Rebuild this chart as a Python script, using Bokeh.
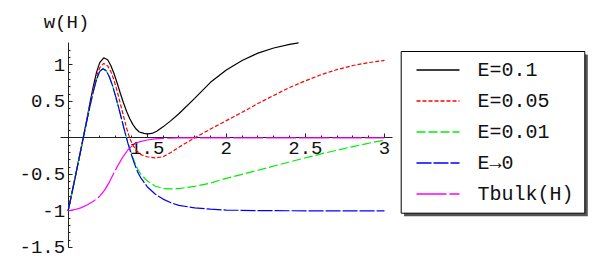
from bokeh.plotting import figure
from bokeh.models import Range1d, LinearAxis, FixedTicker, Label
from bokeh.core.properties import value
from bokeh.embed import file_html
from bokeh.resources import INLINE

# ---------------- data ----------------
H_e1 = [1.00, 1.02, 1.04, 1.06, 1.08, 1.10, 1.12, 1.14, 1.16, 1.18, 1.20, 1.225, 1.25, 1.27,
        1.29, 1.31, 1.33, 1.35, 1.37, 1.39, 1.41, 1.43, 1.45, 1.48, 1.50, 1.53, 1.56, 1.60,
        1.65, 1.70, 1.80, 1.90, 2.00, 2.10, 2.20, 2.30, 2.40, 2.457]
W_e1 = [-1.00, -0.80, -0.59, -0.38, -0.17, 0.05, 0.27, 0.50, 0.71, 0.90, 1.03, 1.096, 1.07, 0.99,
        0.88, 0.75, 0.61, 0.48, 0.36, 0.26, 0.18, 0.12, 0.08, 0.06, 0.055, 0.06, 0.09, 0.15,
        0.235, 0.33, 0.54, 0.76, 0.93, 1.06, 1.16, 1.23, 1.28, 1.30]

H_e05 = [1.00, 1.02, 1.04, 1.06, 1.08, 1.10, 1.12, 1.14, 1.16, 1.18, 1.20, 1.225, 1.25, 1.27,
         1.29, 1.31, 1.33, 1.35, 1.37, 1.39, 1.41, 1.43, 1.46, 1.50, 1.55, 1.60, 1.65, 1.70,
         1.75, 1.80, 1.85, 1.90, 2.00, 2.10, 2.20, 2.30, 2.40, 2.50, 2.60, 2.70, 2.80, 2.90, 3.00]
W_e05 = [-1.00, -0.80, -0.59, -0.38, -0.17, 0.04, 0.26, 0.47, 0.67, 0.84, 0.96, 1.02, 0.985, 0.91,
         0.79, 0.64, 0.47, 0.30, 0.13, -0.01, -0.10, -0.17, -0.23, -0.26, -0.275, -0.26, -0.20, -0.13,
         -0.065, 0.0, 0.06, 0.12, 0.235, 0.35, 0.47, 0.58, 0.69, 0.78, 0.865, 0.935, 0.99, 1.03, 1.06]

H_e01 = [1.00, 1.02, 1.04, 1.06, 1.08, 1.10, 1.12, 1.14, 1.16, 1.18, 1.20, 1.22, 1.24, 1.26,
         1.28, 1.30, 1.32, 1.34, 1.36, 1.38, 1.40, 1.42, 1.44, 1.46, 1.50, 1.55, 1.60, 1.65,
         1.70, 1.80, 1.90, 2.00, 2.10, 2.20, 2.40, 2.60, 2.80, 3.00]
W_e01 = [-1.00, -0.80, -0.59, -0.38, -0.17, 0.04, 0.25, 0.45, 0.64, 0.80, 0.91, 0.945, 0.92, 0.84,
         0.72, 0.57, 0.41, 0.24, 0.07, -0.08, -0.21, -0.33, -0.43, -0.50, -0.59, -0.66, -0.695, -0.70,
         -0.695, -0.665, -0.62, -0.555, -0.50, -0.445, -0.33, -0.22, -0.12, -0.03]

H_e0 = [1.00, 1.02, 1.04, 1.06, 1.08, 1.10, 1.12, 1.14, 1.16, 1.18, 1.20, 1.22, 1.24, 1.26,
        1.28, 1.30, 1.32, 1.34, 1.36, 1.38, 1.40, 1.42, 1.44, 1.46, 1.50, 1.55, 1.60, 1.65,
        1.70, 1.80, 1.90, 2.00, 2.20, 2.50, 3.00]
W_e0 = [-1.00, -0.80, -0.59, -0.38, -0.17, 0.04, 0.25, 0.45, 0.64, 0.80, 0.91, 0.945, 0.92, 0.84,
        0.72, 0.57, 0.41, 0.24, 0.07, -0.09, -0.23, -0.36, -0.47, -0.55, -0.67, -0.77, -0.84, -0.89,
        -0.925, -0.96, -0.978, -0.99, -0.997, -1.0, -1.0]

H_tb = [1.00, 1.04, 1.08, 1.12, 1.16, 1.20, 1.23, 1.26, 1.29, 1.32, 1.35, 1.38, 1.41, 1.45,
        1.50, 1.55, 1.60, 1.70, 1.80, 3.00]
W_tb = [-1.00, -0.985, -0.96, -0.92, -0.87, -0.80, -0.72, -0.61, -0.48, -0.36, -0.25, -0.16, -0.10, -0.055,
        -0.03, -0.015, -0.008, -0.002, 0.0, 0.0]

series_labels = ["E=0.1", "E=0.05", "E=0.01", "E\u21920", "Tbulk(H)"]
series_colors = ["#000000", "#ff0000", "#00ee00", "#0000ff", "#ff00ff"]
series_dashes = ["solid", "4 2", "9 3", "15 2", "30 3"]

x_ticks = [1.5, 2, 2.5, 3]
x_tick_labels = ["1.5", "2", "2.5", "3"]
x_minor = [1.1, 1.2, 1.3, 1.4, 1.6, 1.7, 1.8, 1.9, 2.1, 2.2, 2.3, 2.4, 2.6, 2.7, 2.8, 2.9]
y_ticks = [-1.5, -1, -0.5, 0.5, 1]
y_tick_labels = ["-1.5", "-1", "-0.5", "0.5", "1"]
y_minor = [-1.4, -1.3, -1.2, -1.1, -0.9, -0.8, -0.7, -0.6, -0.4, -0.3, -0.2, -0.1,
           0.1, 0.2, 0.3, 0.4, 0.6, 0.7, 0.8, 0.9, 1.1, 1.2]

# ---------------- layout ----------------
W, HT = 592, 262
X0, SX = 67.6, 158.2   # canvas px of H=1, px per unit
Y0, SY = 137.3, 73.0   # canvas px (from top) of w=0, px per unit


def hx(px):  # canvas px -> data x
    return 1 + (px - X0) / SX


def wy(py):  # canvas px (from top) -> data y
    return (Y0 - py) / SY


FONT = "Liberation Mono"

p = figure(width=W, height=HT, output_backend="svg", toolbar_location=None,
           x_range=Range1d(hx(0), hx(W)),
           y_range=Range1d(wy(HT), wy(0)),
           x_axis_location=None, y_axis_location=None, min_border=0,
           outline_line_color=None, background_fill_color="white",
           border_fill_color="white")
p.xgrid.visible = False
p.ygrid.visible = False

axis_style = dict(major_tick_in=4, major_tick_out=0, minor_tick_in=2, minor_tick_out=0,
                  axis_line_color="#222222", major_tick_line_color="#222222",
                  minor_tick_line_color="#222222", major_label_text_font=FONT,
                  major_label_text_font_size="19px", major_label_text_color="#111111",
                  level="underlay")

xaxis = LinearAxis(fixed_location=0, bounds=(0.952, 3.049),
                   ticker=FixedTicker(ticks=x_ticks, minor_ticks=x_minor),
                   major_label_overrides=dict(zip(x_ticks, x_tick_labels)),
                   major_label_standoff=4, **axis_style)
p.add_layout(xaxis, "below")

yaxis = LinearAxis(fixed_location=1, bounds=(-1.5, 1.305),
                   ticker=FixedTicker(ticks=y_ticks, minor_ticks=y_minor),
                   major_label_overrides=dict(zip(y_ticks, y_tick_labels)),
                   major_label_standoff=3, **axis_style)
p.add_layout(yaxis, "left")

p.add_layout(Label(x=hx(66), y=wy(22), text="w(H)", text_font=FONT, text_font_size="19px",
                   text_align="center", text_baseline="middle", text_color="#111111"))

# ---------------- curves ----------------
for hs, ws, c, d in zip([H_e1, H_e05, H_e01, H_e0, H_tb], [W_e1, W_e05, W_e01, W_e0, W_tb],
                        series_colors, series_dashes):
    p.line(hs, ws, line_color=c, line_width=1.2, line_dash=d)

# ---------------- legend (box with shadow, samples, labels) ----------------
p.quad(left=hx(403.5), right=hx(587.3), top=wy(54), bottom=wy(215.7),
       fill_color="#555555", line_color=None)
p.quad(left=hx(400.7), right=hx(584.3), top=wy(51), bottom=wy(212.7),
       fill_color="white", line_color="black", line_width=1)

row_px = [69.5, 100.5, 131.5, 162.5, 193.5]
for lab, c, d, ry in zip(series_labels, series_colors, series_dashes, row_px):
    p.line([hx(416), hx(459)], [wy(ry), wy(ry)], line_color=c, line_width=1.3, line_dash=d)
    p.text(x=[hx(477)], y=[wy(ry)], text=[lab], text_font=value(FONT), text_font_size="20px",
           text_baseline="middle", text_align="left", text_color="#111111")

open("out.html", "w").write(file_html(p, INLINE))
